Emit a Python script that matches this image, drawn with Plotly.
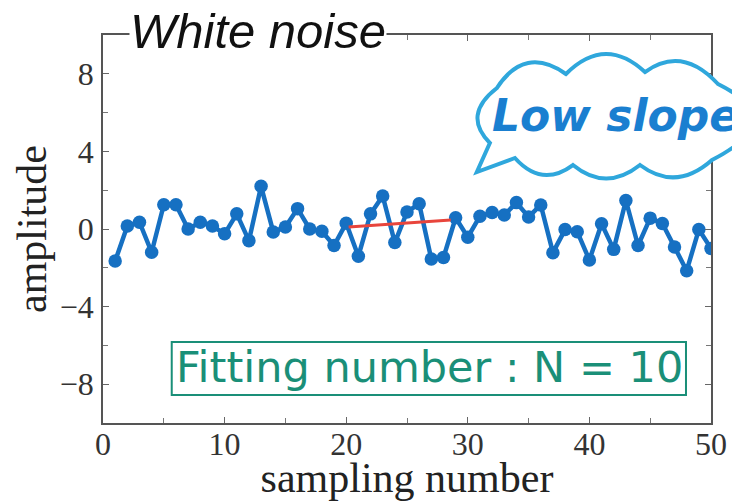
import plotly.graph_objects as go

# ---- data ----
sample_x = list(range(1, 51))
amplitude = [-1.65, 0.15, 0.35, -1.2, 1.25, 1.25, 0.0, 0.35, 0.15, -0.25,
             0.78, -0.6, 2.2, -0.15, 0.1, 1.05, 0.0, -0.12, -0.85, 0.3,
             -1.4, 0.78, 1.7, -0.7, 0.88, 1.3, -1.55, -1.47, 0.58, -0.42,
             0.66, 0.85, 0.72, 1.36, 0.62, 1.24, -1.22, -0.03, -0.14, -1.6,
             0.27, -1.05, 1.47, -0.85, 0.56, 0.28, -0.93, -2.15, -0.03, -1.0]
fit_x = [20.2, 28.6]
fit_y = [0.1, 0.46]
x_ticks = [0, 10, 20, 30, 40, 50]
y_ticks = [-8, -4, 0, 4, 8]

title_text = "White noise"
callout_text = "Low slope"
box_text = "Fitting number : N = 10"

# ---- layout geometry (pixels) ----
W, H = 732, 501
L, R, T, B = 103.3, 711, 35, 423
pw, ph = R - L, B - T


def X(px):
    return (px - L) / pw


def Y(py):
    return (B - py) / ph


def P(px, py):
    return f"{X(px):.4f},{Y(py):.4f}"


fig = go.Figure()
fig.add_trace(go.Scatter(
    x=sample_x, y=amplitude, mode="lines+markers",
    line=dict(color="#1670c2", width=4.5),
    marker=dict(color="#1670c2", size=13.5),
    showlegend=False, hoverinfo="skip"))
fig.add_trace(go.Scatter(
    x=fit_x, y=fit_y, mode="lines",
    line=dict(color="#e8453c", width=3),
    showlegend=False, hoverinfo="skip"))

axis_common = dict(
    showgrid=False, zeroline=False, showline=True, linecolor="#555",
    linewidth=1.5, mirror="ticks", ticks="inside", ticklen=6, tickwidth=1.2,
    tickcolor="#666",
    tickfont=dict(family="Liberation Serif", size=32, color="#333"),
)

fig.update_xaxes(range=[0, 50], tickvals=x_ticks,
                 minor=dict(ticks="inside", dtick=5, ticklen=5, tickcolor="#777"),
                 title=dict(text="sampling number",
                            font=dict(family="Liberation Serif", size=42, color="#222"),
                            standoff=7),
                 ticklabelstandoff=-8,
                 **axis_common)
fig.update_yaxes(range=[-10, 10], tickvals=y_ticks,
                 minor=dict(ticks="inside", dtick=2, ticklen=5, tickcolor="#777"),
                 title=dict(text="amplitude",
                            font=dict(family="Liberation Serif", size=42, color="#222"),
                            standoff=0),
                 ticklabelstandoff=1,
                 **axis_common)

# cloud callout outline
cloud = ("M " + P(490, 143)
         + " Q " + P(462, 115) + " " + P(497, 88)
         + " Q " + P(525, 45) + " " + P(566, 74)
         + " Q " + P(605, 35) + " " + P(645, 72)
         + " Q " + P(682, 45) + " " + P(718, 84)
         + " Q " + P(790, 120) + " " + P(712, 160)
         + " Q " + P(676, 192) + " " + P(640, 165)
         + " Q " + P(606, 192) + " " + P(573, 165)
         + " Q " + P(542, 188) + " " + P(515, 158)
         + " L " + P(477, 172)
         + " Z")
fig.add_shape(type="path", path=cloud, xref="paper", yref="paper",
              line=dict(color="#2fa7dc", width=4), fillcolor="white",
              layer="above")

fig.add_annotation(text=f"<b><i>{callout_text}</i></b>", xref="paper", yref="paper",
                   x=X(490), y=Y(115), xanchor="left", yanchor="middle",
                   showarrow=False,
                   font=dict(family="DejaVu Sans", size=44, color="#1a7fd0"))

fig.add_annotation(text=f"<i>{title_text}</i>", xref="paper", yref="paper",
                   x=X(129), y=Y(31), xanchor="left", yanchor="middle",
                   showarrow=False, bgcolor="white", borderpad=0,
                   font=dict(family="Liberation Sans", size=49, color="#111"))

fig.add_shape(type="rect", xref="paper", yref="paper",
              x0=X(172), x1=X(686), y0=Y(395), y1=Y(342),
              line=dict(color="#1a8f78", width=2), fillcolor="rgba(0,0,0,0)")
fig.add_annotation(text=box_text, xref="paper", yref="paper",
                   x=X(430), y=Y(367), xanchor="center", yanchor="middle",
                   showarrow=False,
                   font=dict(family="DejaVu Sans", size=43, color="#1a8f78"))

fig.update_layout(width=W, height=H, plot_bgcolor="white", paper_bgcolor="white",
                  margin=dict(l=L, r=W - R, t=T, b=H - B, autoexpand=False))

fig.write_html("out.html")
